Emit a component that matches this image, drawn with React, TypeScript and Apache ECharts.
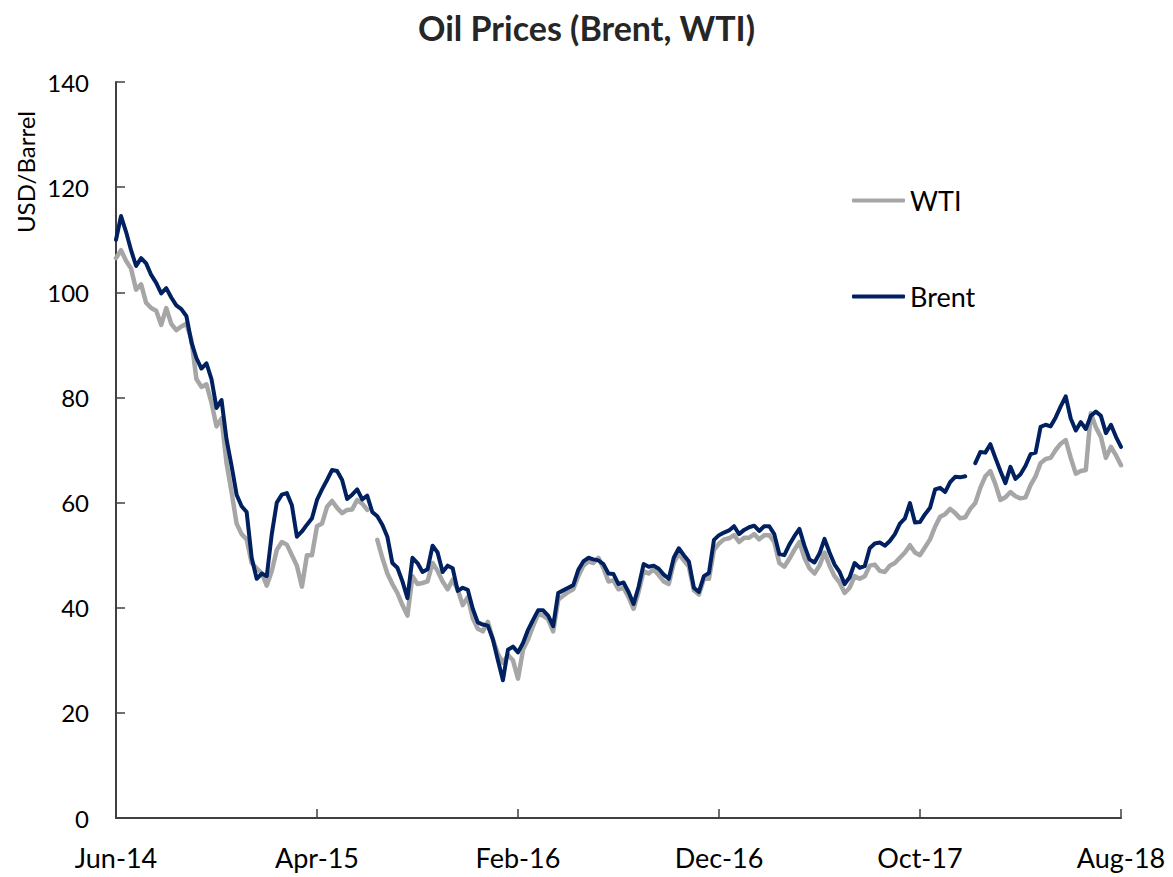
import React, { useEffect, useRef } from "react";
import * as echarts from "echarts";

// Weekly-ish observations, index 0 = Jun-14 ... index 200 = Aug-18
const tickLabels = ["Jun-14", "Apr-15", "Feb-16", "Dec-16", "Oct-17", "Aug-18"];

const brent: (number | null)[] = [
  110, 114.5, 111.5, 108, 105, 106.5, 105.5, 103.3, 101.8, 99.8,
  100.8, 99, 97.5, 96.8, 95.5, 90.5, 87.5, 85.5, 86.5, 83.5,
  78, 79.5, 72, 67, 61.5, 59.3, 58.2, 49.5, 45.5, 46.5,
  46, 54, 60, 61.5, 61.8, 59.5, 53.5, 54.5, 55.8, 57,
  60.5, 62.5, 64.3, 66.2, 66, 64.3, 60.7, 61.5, 62.5, 60.6,
  61.3, 58.2, 57.4, 55.8, 53.5, 48.5, 47.6, 45, 41.8, 49.5,
  48.5, 46.8, 47.3, 51.8, 50.5, 46.8, 48, 47.5, 43.2, 43.8,
  43.4, 39.8, 37.2, 36.8, 36.6, 34, 30, 26.2, 32, 32.6,
  31.5, 33.3, 35.8, 37.7, 39.5, 39.5, 38.5, 36.5, 42.8, 43.3,
  43.8, 44.3, 47.2, 48.8, 49.5, 49.2, 49, 48.3, 46.5, 46.4,
  44.5, 44.8, 43, 40.7, 44, 48.3, 47.8, 48, 47.4, 46.3,
  45.5, 49.5, 51.3, 50, 48.8, 43.8, 43, 46, 46.6, 52.9,
  53.8, 54.3, 54.7, 55.5, 54, 54.8, 55.3, 55.6, 54.6, 55.5,
  55.5, 54, 50.2, 50, 52, 53.6, 55, 51.8, 49.2, 48.6,
  50.3, 53.1, 50.5, 48.2, 46.8, 44.5, 45.8, 48.5, 47.6, 47.9,
  51.3, 52.2, 52.4, 51.8, 52.7, 54, 56, 57, 59.9, 56.2,
  56.3, 57.8, 59, 62.5, 62.8, 62, 63.9, 64.9, 64.8, 65,
  null, 67.5, 69.6, 69.5, 71.1, 68.5, 66, 63.7, 66.8, 64.5,
  65.4, 67, 69.2, 69.5, 74.4, 74.8, 74.5, 76.2, 78.3, 80.2,
  76, 73.7, 75.3, 74, 76.5, 77.3, 76.5, 73.2, 74.8, 72.5,
  70.6,
];

const wti: (number | null)[] = [
  106.5, 108, 106, 104.5, 100.5, 101.5, 98, 97, 96.5, 93.8,
  97, 94, 92.8, 93.5, 94, 91, 83.5, 82, 82.5, 79,
  74.5, 76, 67.5, 62, 56, 54, 53, 48.5, 47.5, 46.6,
  44.2, 47, 51, 52.5, 52, 50, 48, 44, 50, 50,
  55.5, 56, 59.2, 60.3, 59, 58, 58.6, 58.7, 60.5, 59.8,
  58.6, null, 52.9, 49.5, 46.5, 44.5, 42.8, 40.5, 38.5, 46,
  44.5, 44.7, 45, 48.5, 47, 45, 43.5, 45.3, 43.5, 40.5,
  42, 38, 36, 35.5, 37.3, 34, 31.2, 29.5, 31, 30,
  26.5, 32, 34, 36.5, 38.8, 38.5, 37.8, 35.5, 41.5, 42.3,
  43, 43.5, 46, 48, 48.8, 48.5, 49.5, 47.5, 45, 45.2,
  43.5, 43.8, 42, 39.8, 43, 47, 46.5, 47.3, 46.2, 45,
  44.5, 48.5, 50.3, 49, 47.8, 43.3, 42.5, 45.5, 45.5, 51,
  52.2, 53, 53.2, 53.8, 52.5, 53.3, 53.3, 54, 53, 53.8,
  53.8, 52.5, 48.5, 47.8, 49.3, 51, 52.5, 49.5, 47.5, 46.5,
  48, 50.5, 48, 46, 44.8, 42.8, 43.8, 46, 45.5, 46,
  48, 48.2, 47, 46.8, 48, 48.5, 49.5, 50.5, 51.9, 50.5,
  50, 51.5, 53, 55.4, 57.3, 57.8, 58.8, 58, 57, 57.2,
  58.8, 59.9, 62.8, 65, 66, 63.5, 60.5, 61, 62, 61.2,
  60.8, 61, 63.3, 65, 67.5, 68.3, 68.5, 70, 71.2, 71.9,
  68.5, 65.5, 66, 66.2, 77, 74.3, 72.5, 68.5, 70.6, 69,
  67.1,
];

const FONT = "Lato, 'Noto Sans', sans-serif";
const WTI_COLOR = "#A6A6A6";
const BRENT_COLOR = "#002060";
const AXIS_COLOR = "#404040";

export default function App() {
  const ref = useRef<HTMLDivElement>(null);

  useEffect(() => {
    if (!ref.current) return;
    const chart = echarts.init(ref.current, null, { renderer: "svg" });
    const toPairs = (arr: (number | null)[]) => arr.map((v, i) => [i, v]);
    const legendBase = {
      orient: "vertical",
      left: 852,
      padding: 0,
      itemWidth: 53,
      itemHeight: 4,
      icon: "roundRect",
      textStyle: { fontFamily: FONT, fontSize: 27, color: "#000" },
    };
    chart.setOption({
      animation: false,
      backgroundColor: "#ffffff",
      title: {
        text: "Oil Prices (Brent, WTI)",
        left: "center",
        top: 5,
        textStyle: { fontFamily: FONT, fontSize: 34, fontWeight: "bold", color: "#262626" },
      },
      grid: { left: 116, right: 52, top: 82, bottom: 59, containLabel: false },
      legend: [
        { ...legendBase, top: 187, data: ["WTI"] },
        { ...legendBase, top: 283, data: ["Brent"] },
      ],
      graphic: [
        {
          type: "text",
          x: 25,
          y: 172,
          rotation: Math.PI / 2,
          style: {
            text: "USD/Barrel",
            fontFamily: FONT,
            fontSize: 24,
            fill: "#000",
            textAlign: "center",
            textVerticalAlign: "middle",
          },
        },
      ],
      xAxis: {
        type: "value",
        min: 0,
        max: 200,
        interval: 40,
        axisLine: { lineStyle: { color: AXIS_COLOR, width: 2 } },
        axisTick: { show: true, inside: true, length: 9, lineStyle: { color: AXIS_COLOR, width: 1.5 } },
        splitLine: { show: false },
        axisLabel: {
          margin: 26,
          fontFamily: FONT,
          fontSize: 27,
          color: "#000",
          formatter: (v: number) => tickLabels[Math.round(v / 40)] ?? "",
        },
      },
      yAxis: {
        type: "value",
        min: 0,
        max: 140,
        interval: 20,
        axisLine: { show: true, lineStyle: { color: AXIS_COLOR, width: 2 } },
        axisTick: { show: true, inside: true, length: 9, lineStyle: { color: AXIS_COLOR, width: 1.5 } },
        splitLine: { show: false },
        axisLabel: { margin: 27, fontFamily: FONT, fontSize: 24, color: "#000" },
      },
      series: [
        {
          name: "WTI",
          type: "line",
          data: toPairs(wti),
          symbol: "none",
          connectNulls: false,
          lineStyle: { color: WTI_COLOR, width: 4.5, cap: "round", join: "round" },
          itemStyle: { color: WTI_COLOR },
          z: 2,
        },
        {
          name: "Brent",
          type: "line",
          data: toPairs(brent),
          symbol: "none",
          connectNulls: false,
          lineStyle: { color: BRENT_COLOR, width: 4, cap: "round", join: "round" },
          itemStyle: { color: BRENT_COLOR },
          z: 3,
        },
      ],
    });
    return () => chart.dispose();
  }, []);

  return (
    <div
      ref={ref}
      style={{ position: "absolute", left: 0, top: 0, width: 1173, height: 877 }}
    />
  );
}
